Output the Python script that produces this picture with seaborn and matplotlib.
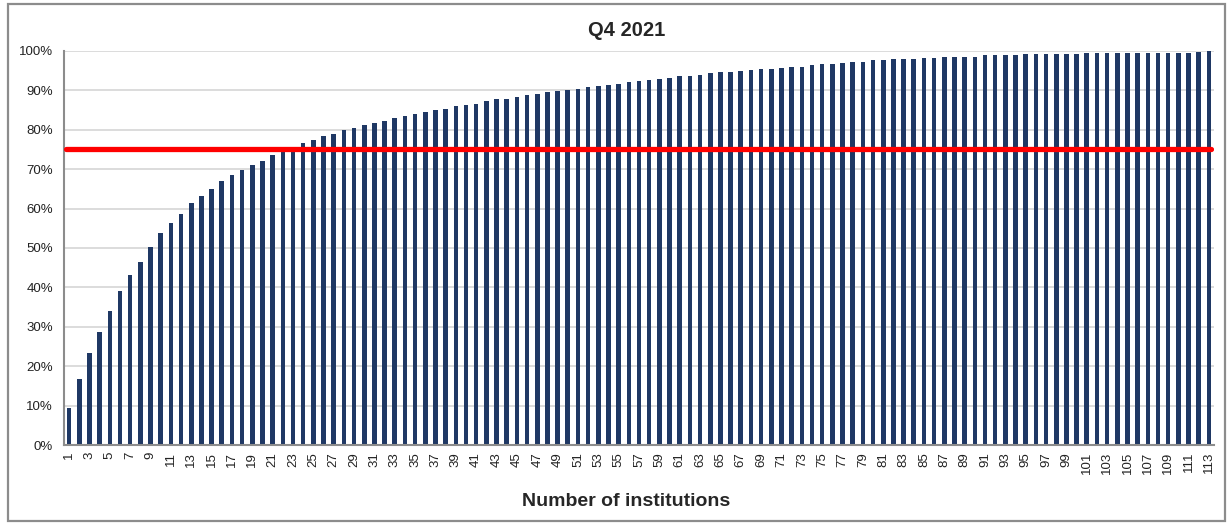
# Cumulative share by number of institutions, Q4 2021

import matplotlib
matplotlib.use("Agg")
import pandas as pd
import seaborn as sns
import matplotlib.pyplot as plt
from matplotlib.patches import Rectangle
from matplotlib.ticker import PercentFormatter

# institutions 1..113
institutions = list(range(1, 114))

# cumulative share (%)
cum_share = [
    9.3, 16.7, 23.4, 28.6, 34.0, 39.1, 43.1, 46.5, 50.3, 53.8,
    56.3, 58.7, 61.4, 63.2, 65.1, 66.9, 68.5, 69.7, 71.0, 72.2,
    73.5, 74.7, 75.7, 76.7, 77.3, 78.3, 78.9, 79.9, 80.5, 81.1,
    81.7, 82.3, 83.0, 83.5, 83.9, 84.4, 85.1, 85.4, 86.0, 86.3,
    86.6, 87.3, 87.7, 87.9, 88.3, 88.8, 89.2, 89.5, 89.9, 90.2,
    90.4, 90.8, 91.0, 91.4, 91.7, 92.1, 92.3, 92.6, 93.0, 93.2,
    93.6, 93.6, 93.9, 94.3, 94.6, 94.6, 94.8, 95.2, 95.4, 95.4,
    95.8, 96.0, 96.0, 96.4, 96.7, 96.7, 97.0, 97.3, 97.3, 97.6,
    97.6, 98.0, 98.0, 98.0, 98.3, 98.3, 98.6, 98.6, 98.6, 98.6,
    98.9, 98.9, 98.9, 98.9, 99.2, 99.2, 99.2, 99.2, 99.2, 99.2,
    99.5, 99.5, 99.5, 99.5, 99.5, 99.5, 99.5, 99.5, 99.5, 99.5,
    99.6, 99.7, 100.0,
]

threshold = 75

df = pd.DataFrame({"Institution": institutions, "Share": cum_share})

sns.set_style("white")
plt.rcParams["font.family"] = ["Liberation Sans", "DejaVu Sans"]

fig = plt.figure(figsize=(12.28, 5.25), dpi=100)
ax = fig.add_axes([64 / 1228, 80 / 525, 1150 / 1228, 394 / 525])

# outer chart frame
fig.patches.append(Rectangle((8 / 1228, 4 / 525), 1217 / 1228, 517 / 525,
                             transform=fig.transFigure, fill=False,
                             edgecolor="#8c8c8c", linewidth=1.6))

sns.barplot(data=df, x="Institution", y="Share", color="#1f3864",
            saturation=1, width=0.45, linewidth=0, ax=ax)

ax.axhline(threshold, xmin=0.002, xmax=0.997, color="#ff0000", linewidth=3.8, zorder=5)

ax.set_ylim(0, 100)
ax.set_xlim(-0.5, len(institutions) - 0.5)
ax.set_yticks(range(0, 101, 10))
ax.yaxis.set_major_formatter(PercentFormatter(decimals=0))
ax.grid(axis="y", color="#d9d9d9", linewidth=1.3)
ax.set_axisbelow(True)

ax.set_xticks(range(0, len(institutions), 2))
ax.set_xticklabels([str(i) for i in institutions[::2]], rotation=90, fontsize=9.5)
ax.tick_params(axis="y", labelsize=9.5, length=0, pad=8, labelcolor="#222222")
ax.tick_params(axis="x", length=0, pad=5, labelcolor="#222222")

for s in ["top", "right"]:
    ax.spines[s].set_visible(False)
for s in ["left", "bottom"]:
    ax.spines[s].set_color("#8c8c8c")
    ax.spines[s].set_linewidth(1.5)

ax.set_ylabel("")
ax.set_xlabel("")
fig.text(0.51, 1 - 30 / 525, "Q4 2021", ha="center", va="center",
         fontsize=14.5, fontweight="bold")
fig.text(0.51, 1 - 501 / 525, "Number of institutions", ha="center", va="center",
         fontsize=14, fontweight="bold")

fig.savefig("out.png", dpi=100)
